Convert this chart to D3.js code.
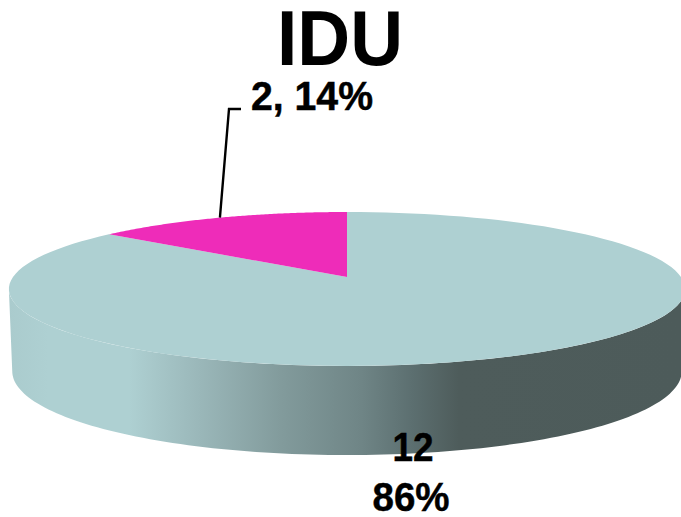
<!DOCTYPE html>
<html>
<head>
<meta charset="utf-8">
<script src="https://cdnjs.cloudflare.com/ajax/libs/d3/7.8.5/d3.min.js"></script>
<style>
  html, body { margin: 0; padding: 0; background: #fff; overflow: hidden; }
  text { font-family: "Liberation Sans", Arial, sans-serif; font-weight: bold; fill: #000; stroke: #000; }
</style>
</head>
<body>
<div class="graph"></div>
<script>
var categories = ["Other", "IDU"];
var values = [12, 2];
var percents = ["86%", "14%"];
var sliceColors = ["#aed0d2", "#ee2cb9"];
var wallStops = [[0, "#aacbcd"], [0.06, "#aed0d2"], [0.18, "#aed0d2"], [0.285, "#9ab7b9"], [0.405, "#829b9c"], [0.525, "#6f8586"], [0.6, "#5c6f70"], [0.67, "#4e5c5b"], [1, "#4d5b5a"]];

var NS = {};
NS.width = 681;
NS.height = 517;
NS.cx = 347;
NS.radius = 334;
NS.depth = 81;
NS.taper = 0.1;
NS.inset = 0.99;
// perspective constants for the tilted disc: apex, far/near squeeze
NS.apexY = 277;
NS.a = -31.96;
NS.c = 0.1558;

// project a point of the unit disc (u right, v away from viewer) to the page
function project(u, v, drop) {
  var w = 1 + NS.c * v;
  var x = NS.radius * u / w;
  var y = (NS.a * v + NS.apexY) / w;
  if (drop) {
    x *= NS.inset;
    y += NS.depth * (1 - NS.taper * v);
  }
  return [NS.cx + x, y];
}

function onRim(angle, drop) {
  return project(Math.sin(angle), Math.cos(angle), drop);
}

function rimPoints(a0, a1, drop) {
  return d3.range(0, 121).map(function(i) {
    return onRim(a0 + (a1 - a0) * i / 120, drop);
  });
}

var svg = d3.select(".graph").append("svg")
    .attr("width", NS.width)
    .attr("height", NS.height);

var grad = svg.append("defs").append("linearGradient")
    .attr("id", "wall")
    .attr("gradientUnits", "userSpaceOnUse")
    .attr("x1", 8).attr("x2", NS.width).attr("y1", 0).attr("y2", 0);
grad.selectAll("stop").data(wallStops).enter().append("stop")
    .attr("offset", function(d) { return d[0]; })
    .attr("stop-color", function(d) { return d[1]; });

var line = d3.line();
var slices = d3.pie().sort(null).startAngle(0).endAngle(2 * Math.PI)(values);

// side wall: rim between the two silhouette tips, top edge then bottom edge back
var tip = Math.acos(-NS.c);
var wallTop = rimPoints(tip, 2 * Math.PI - tip, 0);
var wallBottom = rimPoints(2 * Math.PI - tip, tip, 1);
svg.append("path")
    .attr("d", line(wallTop.concat(wallBottom)) + "Z")
    .attr("fill", "url(#wall)");

// top face
svg.selectAll("path.slice").data(slices).enter().append("path")
    .attr("class", "slice")
    .attr("fill", function(d, i) { return sliceColors[i]; })
    .attr("d", function(d) {
      return line([project(0, 0)].concat(rimPoints(d.startAngle, d.endAngle, 0))) + "Z";
    });

// leader for the small slice, anchored on the rim at its mid angle
var idu = slices[1];
var anchor = onRim((idu.startAngle + idu.endAngle) / 2, 0);
svg.append("path")
    .attr("d", line([anchor, [229, 109], [241, 109]]))
    .attr("fill", "none")
    .attr("stroke", "#000")
    .attr("stroke-width", 2.4);

function label(str, x, y, size, len, sw) {
  svg.append("text").attr("x", x).attr("y", y)
      .attr("text-anchor", "middle").attr("font-size", size)
      .attr("stroke-width", sw)
      .attr("textLength", len).attr("lengthAdjust", "spacingAndGlyphs")
      .text(str);
}

label(categories[1], 340, 65, 77, 126, 0);
label(values[1] + ", " + percents[1], 312, 110, 41, 122, 0.5);
label(values[0], 413, 461, 41, 41, 0.5);
label(percents[0], 411, 511, 41, 77, 0.5);
</script>
</body>
</html>
